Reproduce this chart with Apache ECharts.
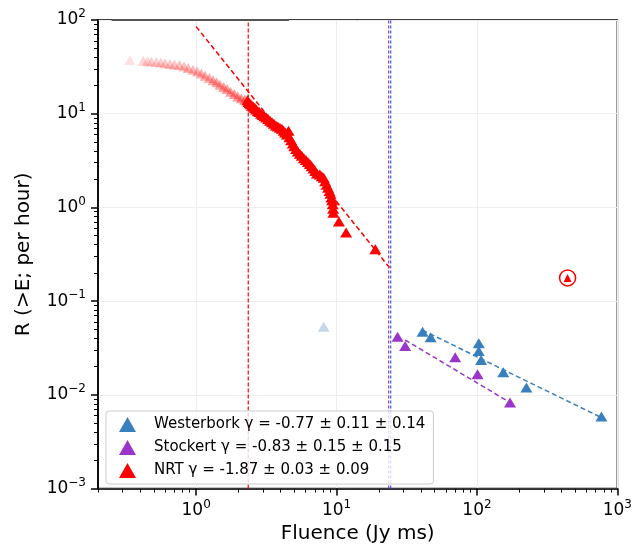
<!DOCTYPE html>
<html>
<head>
<meta charset="utf-8">
<script src="https://cdn.jsdelivr.net/npm/echarts@6/dist/echarts.min.js"></script>
<style>
html, body { margin: 0; padding: 0; background: #fff; }
#chart { width: 635px; height: 549px; }
</style>
</head>
<body>
<div id="chart"></div>
<script>
// values (fluence in Jy ms, rate per hour)
var nrtFaded = [
  [0.337, 37.5], [0.42, 36.8], [0.45, 36.2], [0.48, 36.0], [0.52, 35.6],
  [0.56, 35.2], [0.60, 34.6], [0.65, 34.0], [0.70, 33.6], [0.76, 33.0],
  [0.82, 32.0], [0.88, 30.8], [0.95, 29.5], [1.02, 28.2], [1.09, 26.8],
  [1.16, 25.4], [1.24, 24.0], [1.32, 22.8], [1.40, 21.6], [1.48, 20.4],
  [1.57, 19.3], [1.66, 18.3], [1.76, 17.2], [1.87, 16.2], [1.98, 15.3],
  [2.10, 14.6], [2.22, 14.1]
];
var nrt = [
  [2.32, 13.9], [2.36, 13.3], [2.40, 12.9], [2.45, 12.6], [2.50, 12.2],
  [2.56, 11.9], [2.62, 11.5], [2.68, 11.1], [2.75, 10.7], [2.82, 10.4],
  [2.90, 10.0], [2.98, 9.7], [3.07, 9.4], [3.16, 9.1], [3.26, 8.8],
  [3.36, 8.4], [3.47, 8.1], [3.58, 7.8], [3.70, 7.5], [3.82, 7.3],
  [3.95, 7.1], [4.08, 6.9], [4.20, 6.6], [4.30, 6.3], [4.42, 6.0],
  [4.55, 6.6], [4.62, 5.6], [4.75, 5.2], [4.88, 4.8], [5.00, 4.5],
  [5.15, 4.2], [5.30, 3.95], [5.48, 3.75], [5.65, 3.55], [5.85, 3.35],
  [6.05, 3.2], [6.25, 3.05], [6.45, 2.9], [6.65, 2.75], [6.85, 2.6],
  [7.05, 2.45], [7.25, 2.3], [7.6, 2.25], [7.85, 2.15], [8.1, 2.07],
  [8.3, 1.9], [8.5, 1.75], [8.7, 1.62], [8.9, 1.5], [9.05, 1.4],
  [9.2, 1.28], [9.3, 1.19], [9.4, 1.08], [9.45, 0.97], [9.5, 0.88],
  [10.4, 0.71], [11.7, 0.54], [18.9, 0.357]
];
var nrtOutlier = [[442, 0.177]];
var westerbork = [
  [41.0, 0.0472], [46.8, 0.0411], [103, 0.0355], [103, 0.0294],
  [107, 0.0236], [154, 0.0174], [225, 0.012], [770, 0.00589]
];
var westerborkFaded = [[8.1, 0.0534]];
var stockert = [
  [27.2, 0.0418], [30.8, 0.0332], [70, 0.0252], [101, 0.0166], [172, 0.0083]
];
var nrtFit = [[1.0, 85], [24.1, 0.223]];
var westerborkFit = [[41, 0.049], [783, 0.00565]];
var stockertFit = [[30.8, 0.0385], [175, 0.00816]];
var topLine = [[0.25, 100], [4.58, 100]];
var nrtThreshold = 2.35;
var stockertThreshold = 23.5;
var westerborkThreshold = 24.3;

var names = [
  'Westerbork γ = -0.77 ± 0.11 ± 0.14',
  'Stockert γ = -0.83 ± 0.15 ± 0.15',
  'NRT γ = -1.87 ± 0.03 ± 0.09'
];
var majorX = [1, 10, 100, 1000];
var majorY = [0.001, 0.01, 0.1, 1, 10, 100];
var X_MIN = 0.2, X_MAX = 1000, Y_MIN = 0.001, Y_MAX = 100;

function minors(from, to) {
  var out = [];
  for (var d = from; d < to; d *= 10) {
    for (var k = 2; k <= 9; k++) out.push(+(k * d).toPrecision(3));
  }
  return out;
}
var minorX = minors(0.1, 1000).filter(function (v) { return v >= X_MIN; });
var minorY = minors(0.001, 100);

var BLUE = '#3a7fbd', PURPLE = '#9b35c9', RED = '#ff0000';

function powLabel(v) {
  var e = Math.round(Math.log10(v));
  return '{b|10}{s|' + (e < 0 ? '\u2212' + (-e) : e) + '}';
}
var rich = {
  b: { fontSize: 17, lineHeight: 24, color: '#000', fontFamily: 'DejaVu Sans' },
  s: { fontSize: 12, lineHeight: 12, verticalAlign: 'top', color: '#000', fontFamily: 'DejaVu Sans' }
};

function vline(x, color, dash, width) {
  return {
    type: 'line',
    data: [[x, Y_MIN], [x, Y_MAX]],
    symbol: 'none',
    silent: true,
    lineStyle: { color: color, width: width, type: dash }
  };
}
function fitLine(data, color) {
  return {
    type: 'line',
    data: data,
    symbol: 'none',
    silent: true,
    lineStyle: { color: color, width: 1.5, type: [5, 3] }
  };
}

var myChart = echarts.init(document.getElementById('chart'));
var lo = Math.log10(0.33), hi = Math.log10(2.3);

myChart.setOption({
  animation: false,
  backgroundColor: '#fff',
  textStyle: { fontFamily: 'DejaVu Sans' },
  grid: {
    left: 98, right: 15, top: 20, bottom: 57,
    show: true, borderColor: '#000', borderWidth: 1.5, backgroundColor: 'transparent'
  },
  legend: {
    left: 106, top: 411,
    orient: 'vertical',
    data: names,
    icon: 'triangle',
    itemWidth: 17, itemHeight: 15,
    itemGap: 8,
    padding: [6, 8, 6, 13],
    backgroundColor: 'rgba(255,255,255,0.8)',
    borderColor: '#ccc', borderWidth: 1, borderRadius: 3,
    selectedMode: false,
    textStyle: { fontSize: 15, color: '#000', fontFamily: 'DejaVu Sans', padding: [0, 0, 0, 13] }
  },
  xAxis: [{
    type: 'log', logBase: 10, min: X_MIN, max: X_MAX,
    name: 'Fluence (Jy ms)', nameLocation: 'middle', nameGap: 33,
    nameTextStyle: { fontSize: 20, color: '#000' },
    axisLine: { show: true, lineStyle: { color: '#000', width: 1.5 } },
    axisTick: { show: true, customValues: majorX, length: 7, lineStyle: { color: '#000', width: 1.5 } },
    axisLabel: { customValues: majorX, margin: 10, formatter: powLabel, rich: rich },
    splitLine: { show: true, lineStyle: { color: '#eeeeee', width: 1 } }
  }, {
    type: 'log', logBase: 10, min: X_MIN, max: X_MAX, position: 'bottom',
    axisLine: { show: false },
    axisTick: { show: true, customValues: minorX, length: 4, lineStyle: { color: '#000', width: 1 } },
    axisLabel: { show: false },
    splitLine: { show: false }
  }],
  yAxis: [{
    type: 'log', logBase: 10, min: Y_MIN, max: Y_MAX,
    name: 'R (>E; per hour)', nameLocation: 'middle', nameGap: 64,
    nameTextStyle: { fontSize: 20, color: '#000' },
    axisLine: { show: true, lineStyle: { color: '#000', width: 1.5 } },
    axisTick: { show: true, customValues: majorY, length: 7, lineStyle: { color: '#000', width: 1.5 } },
    axisLabel: { customValues: majorY, margin: 12, formatter: powLabel, rich: rich },
    splitLine: { show: true, lineStyle: { color: '#eeeeee', width: 1 } }
  }, {
    type: 'log', logBase: 10, min: Y_MIN, max: Y_MAX, position: 'left',
    axisLine: { show: false },
    axisTick: { show: true, customValues: minorY, length: 4, lineStyle: { color: '#000', width: 1 } },
    axisLabel: { show: false },
    splitLine: { show: false }
  }],
  series: [{
    name: 'topline',
    type: 'line',
    data: topLine,
    symbol: 'none',
    lineStyle: { color: '#555', width: 2 }
  },
  vline(nrtThreshold, RED, [4, 2], 1.2),
  vline(stockertThreshold, PURPLE, [3, 2], 1.2),
  vline(westerborkThreshold, '#3060e0', [3, 2], 1.2),
  {
    name: 'NRT faded',
    type: 'scatter',
    symbol: 'triangle',
    symbolSize: [11, 10],
    data: nrtFaded.map(function (p) {
      var t = (Math.log10(p[0]) - lo) / (hi - lo);
      return { value: p, itemStyle: { opacity: 0.12 + 0.3 * t } };
    }),
    itemStyle: { color: RED }
  }, {
    name: names[2],
    type: 'scatter',
    symbol: 'triangle',
    symbolSize: [12, 10],
    data: nrt,
    itemStyle: { color: RED, opacity: 1 }
  }, {
    name: 'outlier ring',
    type: 'scatter',
    symbol: 'circle',
    symbolSize: 16,
    data: nrtOutlier,
    itemStyle: { color: '#fff', borderColor: RED, borderWidth: 1.5, opacity: 1 }
  }, {
    name: 'outlier',
    type: 'scatter',
    symbol: 'triangle',
    symbolSize: [8, 8],
    data: nrtOutlier,
    itemStyle: { color: RED, opacity: 1 }
  },
  fitLine(nrtFit, RED),
  {
    name: 'Westerbork faded',
    type: 'scatter',
    symbol: 'triangle',
    symbolSize: [12, 10],
    data: westerborkFaded,
    itemStyle: { color: BLUE, opacity: 0.3 }
  }, {
    name: names[0],
    type: 'scatter',
    symbol: 'triangle',
    symbolSize: [12, 10],
    data: westerbork,
    itemStyle: { color: BLUE, opacity: 1 }
  },
  fitLine(westerborkFit, BLUE),
  {
    name: names[1],
    type: 'scatter',
    symbol: 'triangle',
    symbolSize: [12, 10],
    data: stockert,
    itemStyle: { color: PURPLE, opacity: 1 }
  },
  fitLine(stockertFit, PURPLE)
  ]
});
</script>
</body>
</html>
